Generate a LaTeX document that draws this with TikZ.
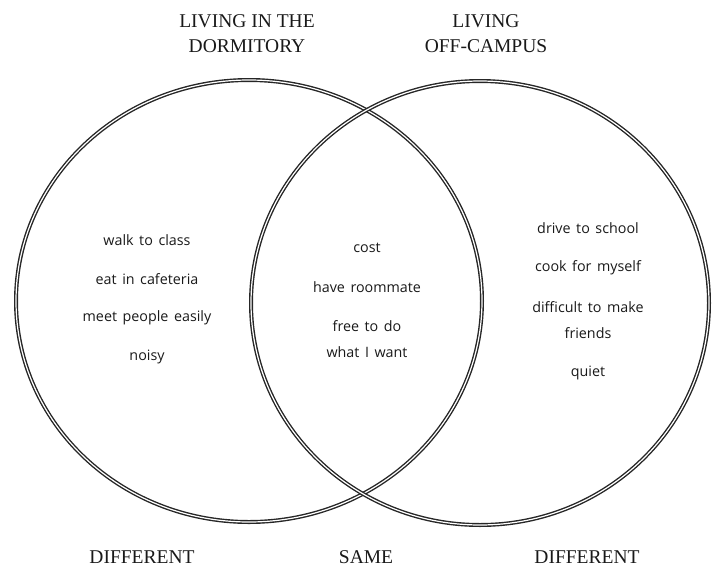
\documentclass[tikz,border=0pt]{standalone}
\usepackage{fontspec}
\setmainfont{Liberation Serif}
\newfontfamily\bodyfont{Open Sans}[WordSpace={1.5}]
\begin{document}
\begin{tikzpicture}[x=1pt,y=-1pt,
  ring/.style={draw=black!85, line width=1.4pt, double=white, double distance=1.2pt},
  head/.style={font=\fontsize{19.5}{25}\selectfont, text=black!90, align=center, inner sep=0pt},
  item/.style={font=\bodyfont\fontsize{14.3}{26}\selectfont, text=black!90, align=center, inner sep=0pt}]
\useasboundingbox (0,0) rectangle (712,568);
\draw[ring] (249,301) ellipse [x radius=233, y radius=221];
\draw[ring] (480,303) ellipse [x radius=229, y radius=222];

\node[head] (hl) at (247,34) {LIVING IN THE\\DORMITORY};
\node[head] (hr) at (486,34) {LIVING\\OFF-CAMPUS};

\node[item] (l1) at (147,240) {walk to class};
\node[item] (l2) at (147,279) {eat in cafeteria};
\node[item] (l3) at (147,318) {meet people easily};
\node[item] (l4) at (147,357) {noisy};

\node[item] (m1) at (367,248) {cost};
\node[item] (m2) at (367,287) {have roommate};
\node[item] (m3) at (367,339) {free to do\\what I want};

\node[item] (r1) at (588,228) {drive to school};
\node[item] (r2) at (588,268) {cook for myself};
\node[item] (r3) at (588,320) {difficult to make\\friends};
\node[item] (r4) at (588,373) {quiet};

\node[head] (b1) at (142,557) {DIFFERENT};
\node[head] (b2) at (366,557) {SAME};
\node[head] (b3) at (587,557) {DIFFERENT};
\end{tikzpicture}
\end{document}
